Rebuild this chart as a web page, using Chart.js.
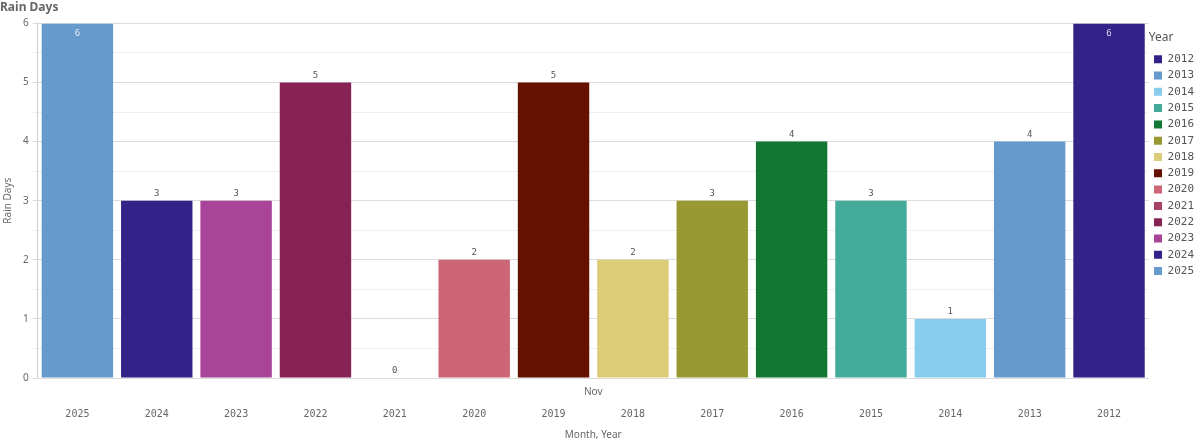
<!DOCTYPE html>
<html>
<head>
<meta charset="utf-8">
<script src="https://cdn.jsdelivr.net/npm/chart.js@4"></script>
<style>
  body { margin: 0; background: #fff; }
  #wrap { width: 1200px; height: 442px; }
</style>
</head>
<body>
<div id="wrap"><canvas id="grafico"></canvas></div>
<script>
// dados
const years = ['2025', '2024', '2023', '2022', '2021', '2020', '2019', '2018', '2017', '2016', '2015', '2014', '2013', '2012'];
const rainDays = [6, 3, 3, 5, 0, 2, 5, 2, 3, 4, 3, 1, 4, 6];
const yearColors = {
  '2012': '#332288', '2013': '#6699CC', '2014': '#88CCEE', '2015': '#44AA99',
  '2016': '#117733', '2017': '#999933', '2018': '#DDCC77', '2019': '#661100',
  '2020': '#CC6677', '2021': '#AA4466', '2022': '#882255', '2023': '#AA4499',
  '2024': '#332288', '2025': '#6699CC'
};
const monthLabels = ['Nov'];

const mono = '"DejaVu Sans Mono", monospace';
const sans = '"Noto Sans", sans-serif';

// rótulos de valor sobre as barras
const valueLabels = {
  id: 'valueLabels',
  afterDatasetsDraw(chart) {
    const ctx = chart.ctx;
    const meta = chart.getDatasetMeta(0);
    const top = chart.chartArea.top;
    ctx.save();
    ctx.font = '9px ' + mono;
    ctx.textAlign = 'center';
    ctx.textBaseline = 'middle';
    meta.data.forEach(function(bar, i) {
      let y = bar.y - 7;
      ctx.fillStyle = '#555';
      if (y < top + 4) {
        y = bar.y + 10;
        ctx.fillStyle = 'rgba(255,255,255,0.8)';
      }
      ctx.fillText(String(rainDays[i]), bar.x, y);
    });
    ctx.restore();
  }
};

const ctx = document.getElementById('grafico').getContext('2d');
const chart = new Chart(ctx, {
  type: 'bar',
  data: {
    labels: years,
    datasets: [{
      label: 'Rain Days',
      data: rainDays,
      backgroundColor: years.map(y => yearColors[y]),
      barPercentage: 0.9,
      categoryPercentage: 1.0
    }]
  },
  options: {
    responsive: true,
    maintainAspectRatio: false,
    animation: false,
    layout: { padding: { left: 0, right: -4, top: 0, bottom: 1 } },
    plugins: {
      title: {
        display: true,
        text: 'Rain Days',
        align: 'start',
        color: '#666',
        font: { family: sans, size: 12, weight: 'bold' },
        padding: { top: 0, bottom: 9 }
      },
      legend: {
        position: 'right',
        align: 'start',
        title: {
          display: true,
          text: 'Year',
          position: 'start',
          color: '#555',
          font: { family: sans, size: 12 },
          padding: { top: 32, bottom: 2 }
        },
        labels: {
          boxWidth: 8,
          boxHeight: 8,
          padding: 5.3,
          color: '#666',
          font: { family: mono, size: 11 },
          generateLabels: function() {
            return years.slice().sort().map(y => ({
              text: y,
              fillStyle: yearColors[y],
              strokeStyle: yearColors[y],
              lineWidth: 0
            }));
          }
        },
        onClick: null
      },
      tooltip: { enabled: false }
    },
    scales: {
      y: {
        min: 0,
        max: 6,
        ticks: {
          stepSize: 0.5,
          color: '#666',
          font: { family: sans, size: 10 },
          padding: 4,
          callback: v => Number.isInteger(v) ? v : ''
        },
        grid: {
          color: c => Number.isInteger(c.tick.value) ? '#dcdcdc' : '#efefef',
          tickLength: 5
        },
        border: { color: '#ccc' },
        title: {
          display: true,
          text: 'Rain Days',
          color: '#666',
          font: { family: sans, size: 10 },
          padding: { top: 2, bottom: 5 }
        }
      },
      x: {
        weight: 1,
        ticks: {
          color: '#666',
          font: { family: mono, size: 10 },
          padding: 2
        },
        grid: { display: false },
        border: { display: false },
        title: {
          display: true,
          text: 'Month, Year',
          color: '#666',
          font: { family: sans, size: 10 },
          padding: { top: 7, bottom: 0 }
        }
      },
      x2: {
        type: 'category',
        labels: monthLabels,
        position: 'bottom',
        weight: 0,
        offset: true,
        ticks: {
          color: '#666',
          font: { family: sans, size: 10 },
          padding: 0
        },
        grid: { display: false },
        border: { color: '#ddd' }
      }
    }
  },
  plugins: [valueLabels]
});
</script>
</body>
</html>
